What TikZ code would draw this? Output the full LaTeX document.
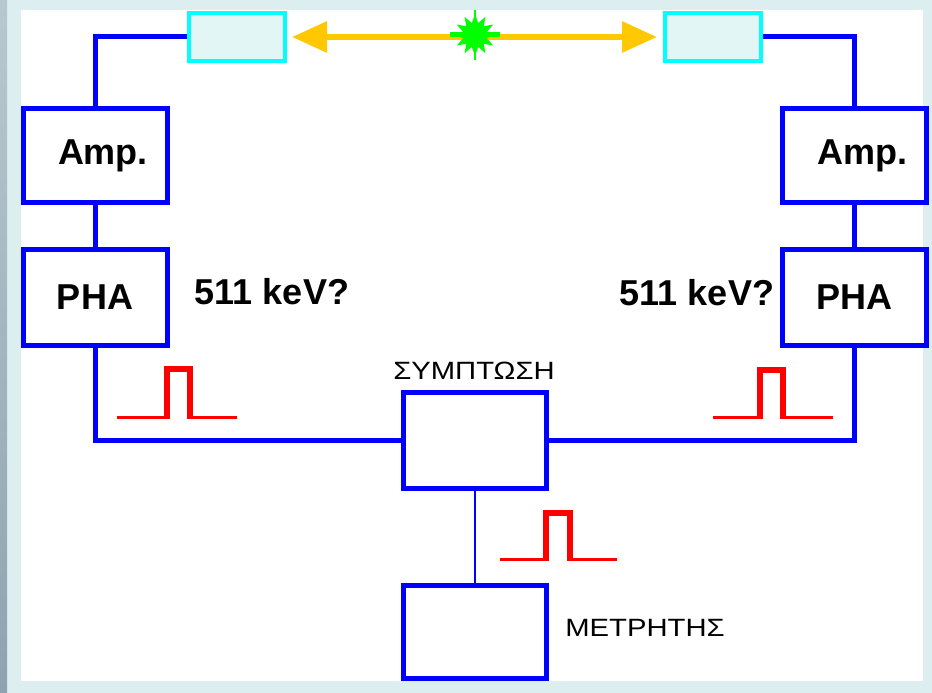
\documentclass[tikz,border=0pt]{standalone}
\usepackage{fontspec}
\setmainfont{Liberation Sans}
\usetikzlibrary{shapes.geometric,arrows.meta}
\definecolor{wire}{HTML}{0000FF}
\definecolor{det}{HTML}{00FFFF}
\definecolor{detfill}{HTML}{E2F6F6}
\definecolor{gam}{HTML}{FFC800}
\definecolor{flashcol}{HTML}{00FF00}
\definecolor{framecol}{HTML}{DCEEF0}
\definecolor{phototop}{HTML}{B8C8D0}
\definecolor{photobot}{HTML}{8EA3B0}
\definecolor{pulsecol}{HTML}{FF0000}
\begin{document}
\begin{tikzpicture}[x=1pt,y=-1pt,
 unitbox/.style={draw=wire,line width=5pt,fill=white,rectangle,inner sep=0pt,minimum width=144pt,font=\fontsize{36}{40}\selectfont\bfseries},
 detbox/.style={draw=det,line width=4pt,fill=detfill,inner sep=0pt,minimum width=96pt,minimum height=48pt},
 wireline/.style={draw=wire,line width=5pt},
 thinwire/.style={draw=wire,line width=2.3pt},
 gammaray/.style={draw=gam,line width=6pt,{Triangle[length=35pt,width=30pt]}-{Triangle[length=35pt,width=30pt]}},
 pulsebase/.style={draw=pulsecol,line width=3.5pt},
 pulsetop/.style={draw=pulsecol,line width=6pt,line join=miter},
 kev/.style={font=\fontsize{36}{40}\selectfont\bfseries,inner sep=0pt},
 greek/.style={font=\fontsize{25}{28}\selectfont,inner sep=0pt,xscale=1.17}
]
\useasboundingbox (0,0) rectangle (932,693);
% background
\fill[framecol] (0,0) rectangle (932,693);
\shade[top color=phototop,bottom color=photobot] (0,0) rectangle (7,693);
\fill[white] (21,10) rectangle (923,681);

% detectors
\node[detbox] (detL) at (237,37) {};
\node[detbox] (detR) at (713,37) {};

% electronics
\node[unitbox,minimum height=94pt] (ampL) at (95,155.5) {\hspace*{16pt}Amp.};
\node[unitbox,minimum height=96pt] (phaL) at (95,297.5) {PHA};
\node[unitbox,minimum height=94pt] (ampR) at (854.5,155.5) {\hspace*{16pt}Amp.};
\node[unitbox,minimum height=96pt] (phaR) at (854.5,297.5) {PHA};
\node[unitbox,minimum width=143pt,minimum height=96pt] (coinc) at (475,440.5) {};
\node[unitbox,minimum width=143pt,minimum height=93pt] (counter) at (475,632) {};

% gamma rays and annihilation flash
\draw[gammaray] ([xshift=5pt]detL.east) -- ([xshift=-6pt]detR.west);
\node[star,star points=12,star point ratio=1.7,fill=flashcol,inner sep=0pt,minimum size=42pt] (flash) at (475,35) {};
\draw[flashcol,line width=1.6pt] ([yshift=-25pt]flash.center) -- ([yshift=25pt]flash.center);
\draw[flashcol,line width=5pt] ([xshift=-25pt]flash.center) -- ([xshift=25pt]flash.center);

% wires
\draw[wireline] (detL.west) -| (ampL.north);
\draw[wireline] (ampL.south) -- (phaL.north);
\draw[wireline] (phaL.south) |- (coinc.west);
\draw[wireline] (detR.east) -| (ampR.north);
\draw[wireline] (ampR.south) -- (phaR.north);
\draw[wireline] (phaR.south) |- (coinc.east);
\draw[thinwire] (coinc.south) -- (counter.north);

% labels
\node[kev] (kevL) at (272,292) {511 keV?};
\node[kev] (kevR) at (697,293) {511 keV?};
\node[greek] (coincLabel) at (474,371) {ΣΥΜΠΤΩΣΗ};
\node[greek] (countLabel) at (645,628) {ΜΕΤΡΗΤΗΣ};

% pulses
\draw[pulsebase] (117,417.5) -- (167,417.5) (190,417.5) -- (237,417.5);
\draw[pulsetop] (167,419) -- (167,369) -- (190,369) -- (190,419);
\draw[pulsebase] (713,417.5) -- (760,417.5) (783,417.5) -- (833,417.5);
\draw[pulsetop] (760,419) -- (760,369.5) -- (783,369.5) -- (783,419);
\draw[pulsebase] (500,559.5) -- (546,559.5) (570,559.5) -- (617,559.5);
\draw[pulsetop] (546,561) -- (546,513) -- (570,513) -- (570,561);
\end{tikzpicture}
\end{document}
